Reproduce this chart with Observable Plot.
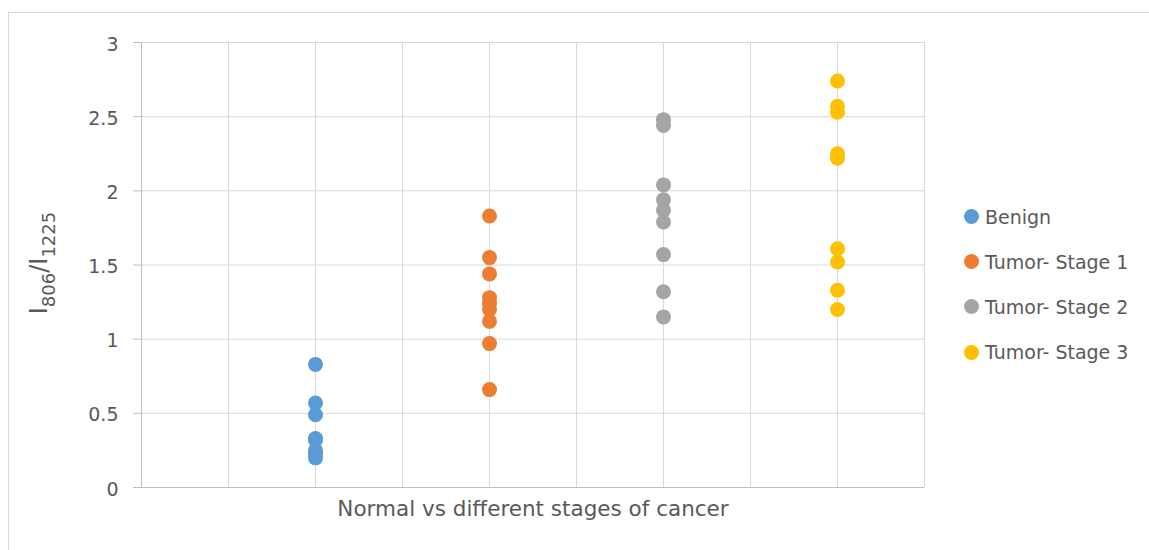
<!DOCTYPE html>
<html>
<head>
<meta charset="utf-8">
<script src="https://cdn.jsdelivr.net/npm/d3@7"></script>
<script src="https://cdn.jsdelivr.net/npm/@observablehq/plot@0.6"></script>
<style>
  html, body { margin: 0; padding: 0; background: #fff; }
  #wrap { position: relative; width: 1149px; height: 550px; overflow: hidden; font-family: "DejaVu Sans", sans-serif; }
  #frame { position: absolute; left: 8px; top: 12px; width: 1141px; height: 560px; border-left: 1px solid #d9d9d9; border-top: 1px solid #d9d9d9; box-sizing: border-box; }
  #chart { position: absolute; left: 0; top: 0; }
  #legend { position: absolute; left: 964px; top: 194px; color: #595959; font-size: 19px; }
  #legend .row { display: flex; align-items: center; height: 45.2px; white-space: nowrap; }
  #legend .sw { width: 15px; height: 15px; border-radius: 50%; margin-right: 6px; flex: none; }
</style>
</head>
<body>
<div id="wrap">
  <div id="frame"></div>
  <div id="chart"></div>
  <div id="legend"></div>
</div>
<script>
const seriesNames = ["Benign", "Tumor- Stage 1", "Tumor- Stage 2", "Tumor- Stage 3"];
const seriesX = [2, 4, 6, 8];
const seriesColors = ["#5B9BD5", "#ED7D31", "#A5A5A5", "#FFC000"];
const benign = [0.83, 0.57, 0.49, 0.33, 0.32, 0.25, 0.23, 0.20];
const stage1 = [1.83, 1.55, 1.44, 1.28, 1.24, 1.20, 1.12, 0.97, 0.66];
const stage2 = [2.48, 2.44, 2.04, 1.94, 1.87, 1.79, 1.57, 1.32, 1.15];
const stage3 = [2.74, 2.57, 2.53, 2.25, 2.22, 1.61, 1.52, 1.33, 1.20];
const yTicks = [0, 0.5, 1, 1.5, 2, 2.5, 3];
const xGrid = [1, 2, 3, 4, 5, 6, 7, 8, 9];
const xTitle = "Normal vs different stages of cancer";

const allSeries = [benign, stage1, stage2, stage3];
const data = allSeries.flatMap((vals, i) => vals.map(v => ({series: seriesNames[i], x: seriesX[i], y: v})));

const plot = Plot.plot({
  width: 1149,
  height: 550,
  marginLeft: 141,
  marginRight: 225,
  marginTop: 42,
  marginBottom: 63,
  style: {fontFamily: "'DejaVu Sans', sans-serif", fontSize: "19px", color: "#595959", background: "transparent"},
  x: {type: "linear", domain: [0, 9], axis: null},
  y: {type: "linear", domain: [0, 3], ticks: yTicks, tickSize: 8, tickPadding: 15, tickFormat: d => String(d), label: null},
  color: {domain: seriesNames, range: seriesColors},
  marks: [
    Plot.ruleY(yTicks.filter(d => d > 0), {stroke: "#d9d9d9", strokeWidth: 1, strokeOpacity: 1}),
    Plot.ruleX(xGrid, {stroke: "#d9d9d9", strokeWidth: 1, strokeOpacity: 1}),
    Plot.ruleX([0], {stroke: "#bfbfbf", strokeWidth: 1}),
    Plot.ruleY([0], {stroke: "#bfbfbf", strokeWidth: 1}),
    Plot.dot(data, {x: "x", y: "y", r: 7.5, fill: "series", stroke: null}),
    Plot.text([xTitle], {frameAnchor: "bottom", dy: 28, fontSize: 21.5, fill: "#595959"})
  ]
});
document.getElementById("chart").appendChild(plot);

const svg = d3.select(plot);
// axis tick line colour and label offset
svg.selectAll("g[aria-label='y-axis tick'] path, g[aria-label='y-axis tick'] line").attr("stroke", "#bfbfbf");
svg.selectAll("g[aria-label='y-axis tick']").attr("stroke", "#bfbfbf");
svg.selectAll("g[aria-label='y-axis tick label']").attr("fill", "#595959").attr("transform", function() {
  const t = d3.select(this).attr("transform") || "";
  return t + " translate(0,2)";
});

// y-axis title with subscripts
const t = svg.append("text")
  .attr("transform", "translate(47,263) rotate(-90)")
  .attr("text-anchor", "middle")
  .attr("fill", "#595959")
  .style("font-size", "24px")
  .style("font-family", "'DejaVu Sans', sans-serif");
t.append("tspan").text("I");
t.append("tspan").attr("font-size", "18px").attr("dy", "8").text("806");
t.append("tspan").attr("dy", "-8").text("/I");
t.append("tspan").attr("font-size", "18px").attr("dy", "8").text("1225");

// legend
const leg = d3.select("#legend");
seriesNames.forEach((n, i) => {
  const row = leg.append("div").attr("class", "row");
  row.append("div").attr("class", "sw").style("background", seriesColors[i]);
  row.append("span").text(n);
});
</script>
</body>
</html>
